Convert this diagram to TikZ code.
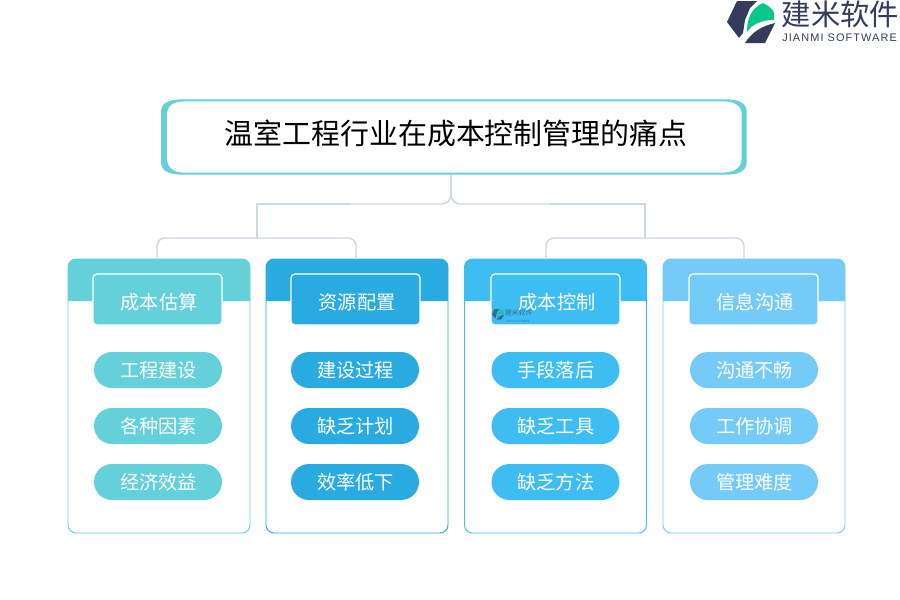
\documentclass[tikz,border=0pt]{standalone}
\usepackage{fontspec}
\setmainfont{Noto Sans CJK SC}
\newfontfamily\latinlogo[LetterSpace=10]{Liberation Sans}
\definecolor{cA}{HTML}{63D0DA}
\definecolor{cB}{HTML}{29ABE2}
\definecolor{cC}{HTML}{3DBDF2}
\definecolor{cD}{HTML}{75CBF7}
\definecolor{conn}{HTML}{CDD8E6}
\definecolor{logodark}{HTML}{333D5B}
\definecolor{logogreen}{HTML}{05C88A}
\tikzset{
  px/.style={x=.75pt,y=-.75pt},
  connline/.style={draw=conn,line width=1.1pt,line cap=round},
  cardbox/.style={draw=#1,line width=.7pt,fill=white,rounded corners=6pt,inner sep=0pt,minimum width=136.5pt,minimum height=205.5pt},
  headbox/.style={fill=#1,draw=white,line width=.9pt,rounded corners=3pt,inner sep=0pt,minimum width=96.75pt,minimum height=38.25pt},
  headtext/.style={inner sep=0pt,text=white,font=\fontsize{14.4pt}{16pt}\selectfont},
  pillbox/.style={fill=#1,rounded corners=13.5pt,inner sep=0pt,minimum width=96pt,minimum height=27pt,text=white,font=\fontsize{14.4pt}{16pt}\selectfont},
}
\newcommand{\logoshapes}{%
  \fill[logodark] (737,1) -- (757,1) -- (750,8) -- (745,20) -- (743,33) -- (739,38) -- (727,22) -- cycle;
  \fill[logogreen] (747,32) .. controls (747,20) and (750,9) .. (763,3) .. controls (769,6) and (773,9) .. (774,13) -- (774,20) .. controls (762,20) and (752,24) .. (747,32) -- cycle;
  \fill[logodark] (745,43) -- (765,43) -- (775,23) .. controls (762,26) and (752,32) .. (745,43) -- cycle;
}
% #1 name, #2 card left, #3 colour, #4 head centre x, #5 pill centre x, #6 head, #7-9 pills
\newcommand{\cardcolumn}[9]{%
  \node[cardbox=#3] (card#1) at (#2+91,396) {};
  \fill[#3,rounded corners=6pt] (#2,301) |- (#2+182,259) -- (#2+182,301);
  \node[headbox=#3] (head#1) at (#4,299.5) {};
  \node[headtext] (headtext#1) at (#4+1.5,302) {#6};
  \node[pillbox=#3] (pa#1) at (#5,370) {\hspace{.6pt}#7};
  \node[pillbox=#3] (pb#1) at (#5,426) {\hspace{.6pt}#8};
  \node[pillbox=#3] (pc#1) at (#5,482) {\hspace{.6pt}#9};
}
\begin{document}
\begin{tikzpicture}[px]
\useasboundingbox (0,0) rectangle (900,600);
\fill[white] (0,0) rectangle (900,600);
% logo
\logoshapes
\node[anchor=west,inner sep=0pt,text=logodark,font=\fontsize{22pt}{24pt}\selectfont] (logoname) at (781.5,14) {建米软件};
\node[anchor=west,inner sep=0pt,text=logodark,font=\latinlogo\fontsize{8.2pt}{10pt}\selectfont] (logolatin) at (782,38) {JIANMI SOFTWARE};
% title: crescent-ended frame
\fill[cA] (183,99.3) -- (725,99.3) .. controls (737,99.3) and (746.7,102) .. (746.7,112) -- (746.7,162) .. controls (746.7,172) and (737,174.7) .. (725,174.7) -- (183,174.7) .. controls (171,174.7) and (161,172) .. (161,162) -- (161,112) .. controls (161,102) and (171,99.3) .. (183,99.3) -- cycle;
\fill[white] (187,101.3) -- (721,101.3) .. controls (734,101.3) and (741.7,105) .. (741.7,115) -- (741.7,158) .. controls (741.7,168) and (734,172.7) .. (721,172.7) -- (185,172.7) .. controls (174,172.7) and (167,168) .. (167,158) -- (167,115) .. controls (167,105) and (174,101.3) .. (187,101.3) -- cycle;
\node[inner sep=0pt,minimum width=439.5pt,minimum height=57pt] (titlebox) at (454,137) {};
\node[inner sep=0pt,text=black,font=\fontsize{21.7pt}{24pt}\selectfont] (titletext) at (456,133) {温室工程行业在成本控制管理的痛点};
% cards
\cardcolumn{a}{68}{cA}{157.5}{158}{成本估算}{工程建设}{各种因素}{经济效益}
\cardcolumn{b}{266}{cB}{355.5}{355}{资源配置}{建设过程}{缺乏计划}{效率低下}
\cardcolumn{c}{464.5}{cC}{555.5}{555.5}{成本控制}{手段落后}{缺乏工具}{缺乏方法}
\cardcolumn{d}{663}{cD}{753.5}{754}{信息沟通}{沟通不畅}{工作协调}{管理难度}
% connectors
\coordinate (mid) at (451,204);
\coordinate (jl) at (257,238);
\coordinate (jr) at (645,238);
\coordinate (ta) at (157,259);
\coordinate (tb) at (356,259);
\coordinate (tc) at (546,259);
\coordinate (td) at (744,259);
\draw[connline,rounded corners=7pt] (mid |- titlebox.south) |- (350,204);
\draw[connline,rounded corners=7pt] (mid |- titlebox.south) |- (550,204);
\draw[connline] (350,204) -| (jl);
\draw[connline] (550,204) -| (jr);
\draw[connline,rounded corners=6pt] (ta) |- (jl) -| (tb);
\draw[connline,rounded corners=6pt] (tc) |- (jr) -| (td);
% faint watermark
\begin{scope}[shift={(310.25,308.75)},scale=.25,opacity=.65]
\logoshapes
\end{scope}
\node[anchor=west,inner sep=0pt,opacity=.6,text=logodark,font=\fontsize{5.2pt}{6pt}\selectfont] (markname) at (504.5,313) {建米软件};
\node[anchor=west,inner sep=0pt,opacity=.5,text=logodark,font=\fontsize{2.1pt}{3pt}\selectfont] (marklatin) at (505,321) {JIANMI SOFTWARE};
\end{tikzpicture}
\end{document}
